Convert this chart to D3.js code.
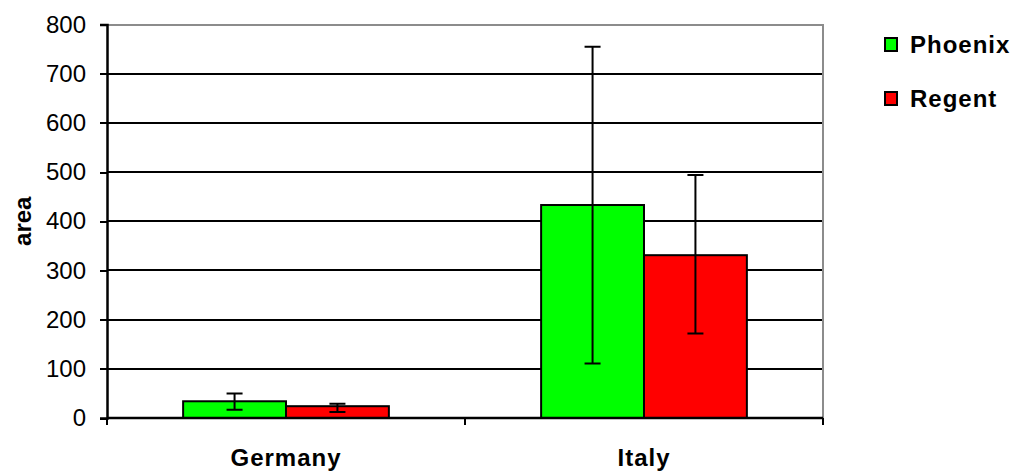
<!DOCTYPE html>
<html>
<head>
<meta charset="utf-8">
<script src="https://cdn.jsdelivr.net/npm/d3@7"></script>
<style>
  body { margin: 0; background: #fff; }
  text { font-family: "Liberation Sans", Arial, sans-serif; fill: #000; }
</style>
</head>
<body>
<svg id="chart" width="1018" height="475"></svg>
<script>
var categories = ['Germany', 'Italy'];
var seriesNames = ['Phoenix', 'Regent'];
var seriesColors = ['#00ff00', '#ff0000'];
var phoenixValues = [34, 433];
var phoenixLow = [17, 111];
var phoenixHigh = [50, 755];
var regentValues = [24, 331];
var regentLow = [12, 172];
var regentHigh = [29, 494];
var yTicks = [0, 100, 200, 300, 400, 500, 600, 700, 800];

var svg = d3.select('#chart');

var plotLeft = 107, plotRight = 823, plotTop = 24.5, plotBottom = 418;

var x = d3.scaleBand()
    .domain(categories)
    .range([plotLeft, plotRight]);

var xs = d3.scaleBand()
    .domain(seriesNames)
    .range([0, x.bandwidth()])
    .paddingOuter(0.74);

var y = d3.scaleLinear()
    .domain([0, 800])
    .range([plotBottom, plotTop]);

var series = [
    { name: 'Phoenix', values: phoenixValues, low: phoenixLow, high: phoenixHigh },
    { name: 'Regent', values: regentValues, low: regentLow, high: regentHigh }
];

// gridlines
svg.append('g')
    .selectAll('line')
    .data(yTicks.filter(function(d) { return d > 0 && d < 800; }))
    .enter().append('line')
    .attr('x1', plotLeft).attr('x2', plotRight)
    .attr('y1', function(d) { return y(d); })
    .attr('y2', function(d) { return y(d); })
    .attr('stroke', '#000')
    .attr('stroke-width', 2)
    .attr('shape-rendering', 'crispEdges');

// plot border top/right (gray)
svg.append('path')
    .attr('d', 'M' + plotLeft + ',' + y(800) + 'H' + plotRight + 'V' + plotBottom)
    .attr('fill', 'none')
    .attr('stroke', '#8c8c8c')
    .attr('stroke-width', 2)
    .attr('shape-rendering', 'crispEdges');

// bars
var groups = svg.append('g')
    .selectAll('g')
    .data(series)
    .enter().append('g');

groups.selectAll('rect')
    .data(function(s, si) {
        return categories.map(function(c, i) {
            return { cat: c, name: s.name, v: s.values[i], color: seriesColors[si] };
        });
    })
    .enter().append('rect')
    .attr('x', function(d) { return x(d.cat) + xs(d.name); })
    .attr('y', function(d) { return y(d.v); })
    .attr('width', xs.bandwidth())
    .attr('height', function(d) { return y(0) - y(d.v); })
    .attr('fill', function(d) { return d.color; })
    .attr('stroke', '#000')
    .attr('stroke-width', 2);

// error bars
groups.selectAll('path')
    .data(function(s) {
        return categories.map(function(c, i) {
            return { cat: c, name: s.name, lo: s.low[i], hi: s.high[i] };
        });
    })
    .enter().append('path')
    .attr('d', function(d) {
        var cx = x(d.cat) + xs(d.name) + xs.bandwidth() / 2,
            cap = 8;
        return 'M' + cx + ',' + y(d.hi) + 'V' + y(d.lo) +
            'M' + (cx - cap) + ',' + y(d.hi) + 'H' + (cx + cap) +
            'M' + (cx - cap) + ',' + y(d.lo) + 'H' + (cx + cap);
    })
    .attr('fill', 'none')
    .attr('stroke', '#000')
    .attr('stroke-width', 2);

// y axis
var yAxis = svg.append('g')
    .attr('transform', 'translate(' + plotLeft + ',0)')
    .call(d3.axisLeft(y).tickValues(yTicks).tickSize(7).tickPadding(14));
yAxis.select('.domain').attr('stroke', '#000').attr('stroke-width', 2.5);
yAxis.selectAll('.tick line').attr('stroke', '#000').attr('stroke-width', 2)
    .attr('shape-rendering', 'crispEdges');
yAxis.selectAll('.tick text')
    .attr('font-size', 24)
    .attr('font-family', '"Liberation Sans", Arial, sans-serif')
    .attr('fill', '#000');

// x axis
svg.append('line')
    .attr('x1', plotLeft).attr('x2', plotRight)
    .attr('y1', plotBottom).attr('y2', plotBottom)
    .attr('stroke', '#000').attr('stroke-width', 2.5);

svg.append('g')
    .selectAll('line')
    .data([plotLeft, (plotLeft + plotRight) / 2, plotRight])
    .enter().append('line')
    .attr('x1', function(d) { return d; })
    .attr('x2', function(d) { return d; })
    .attr('y1', plotBottom).attr('y2', plotBottom + 7)
    .attr('stroke', '#000').attr('stroke-width', 2);

svg.append('g')
    .selectAll('text')
    .data(categories)
    .enter().append('text')
    .text(function(d) { return d; })
    .attr('x', function(d) { return x(d) + x.bandwidth() / 2; })
    .attr('y', 466)
    .attr('text-anchor', 'middle')
    .attr('font-size', 24)
    .attr('font-weight', 'bold')
    .attr('letter-spacing', 1);

// y title
svg.append('text')
    .text('area')
    .attr('transform', 'translate(31,' + ((plotTop + plotBottom) / 2) + ') rotate(-90)')
    .attr('text-anchor', 'middle')
    .attr('font-size', 24)
    .attr('font-weight', 'bold');

// legend
var legend = svg.append('g')
    .selectAll('g')
    .data(seriesNames)
    .enter().append('g')
    .attr('transform', function(d, i) { return 'translate(885,' + (38 + i * 54) + ')'; });

legend.append('rect')
    .attr('width', 12).attr('height', 13)
    .attr('fill', function(d, i) { return seriesColors[i]; })
    .attr('stroke', '#000')
    .attr('stroke-width', 2);

legend.append('text')
    .text(function(d) { return d; })
    .attr('x', 25)
    .attr('y', 15)
    .attr('font-size', 24)
    .attr('font-weight', 'bold')
    .attr('letter-spacing', 1);
</script>
</body>
</html>
